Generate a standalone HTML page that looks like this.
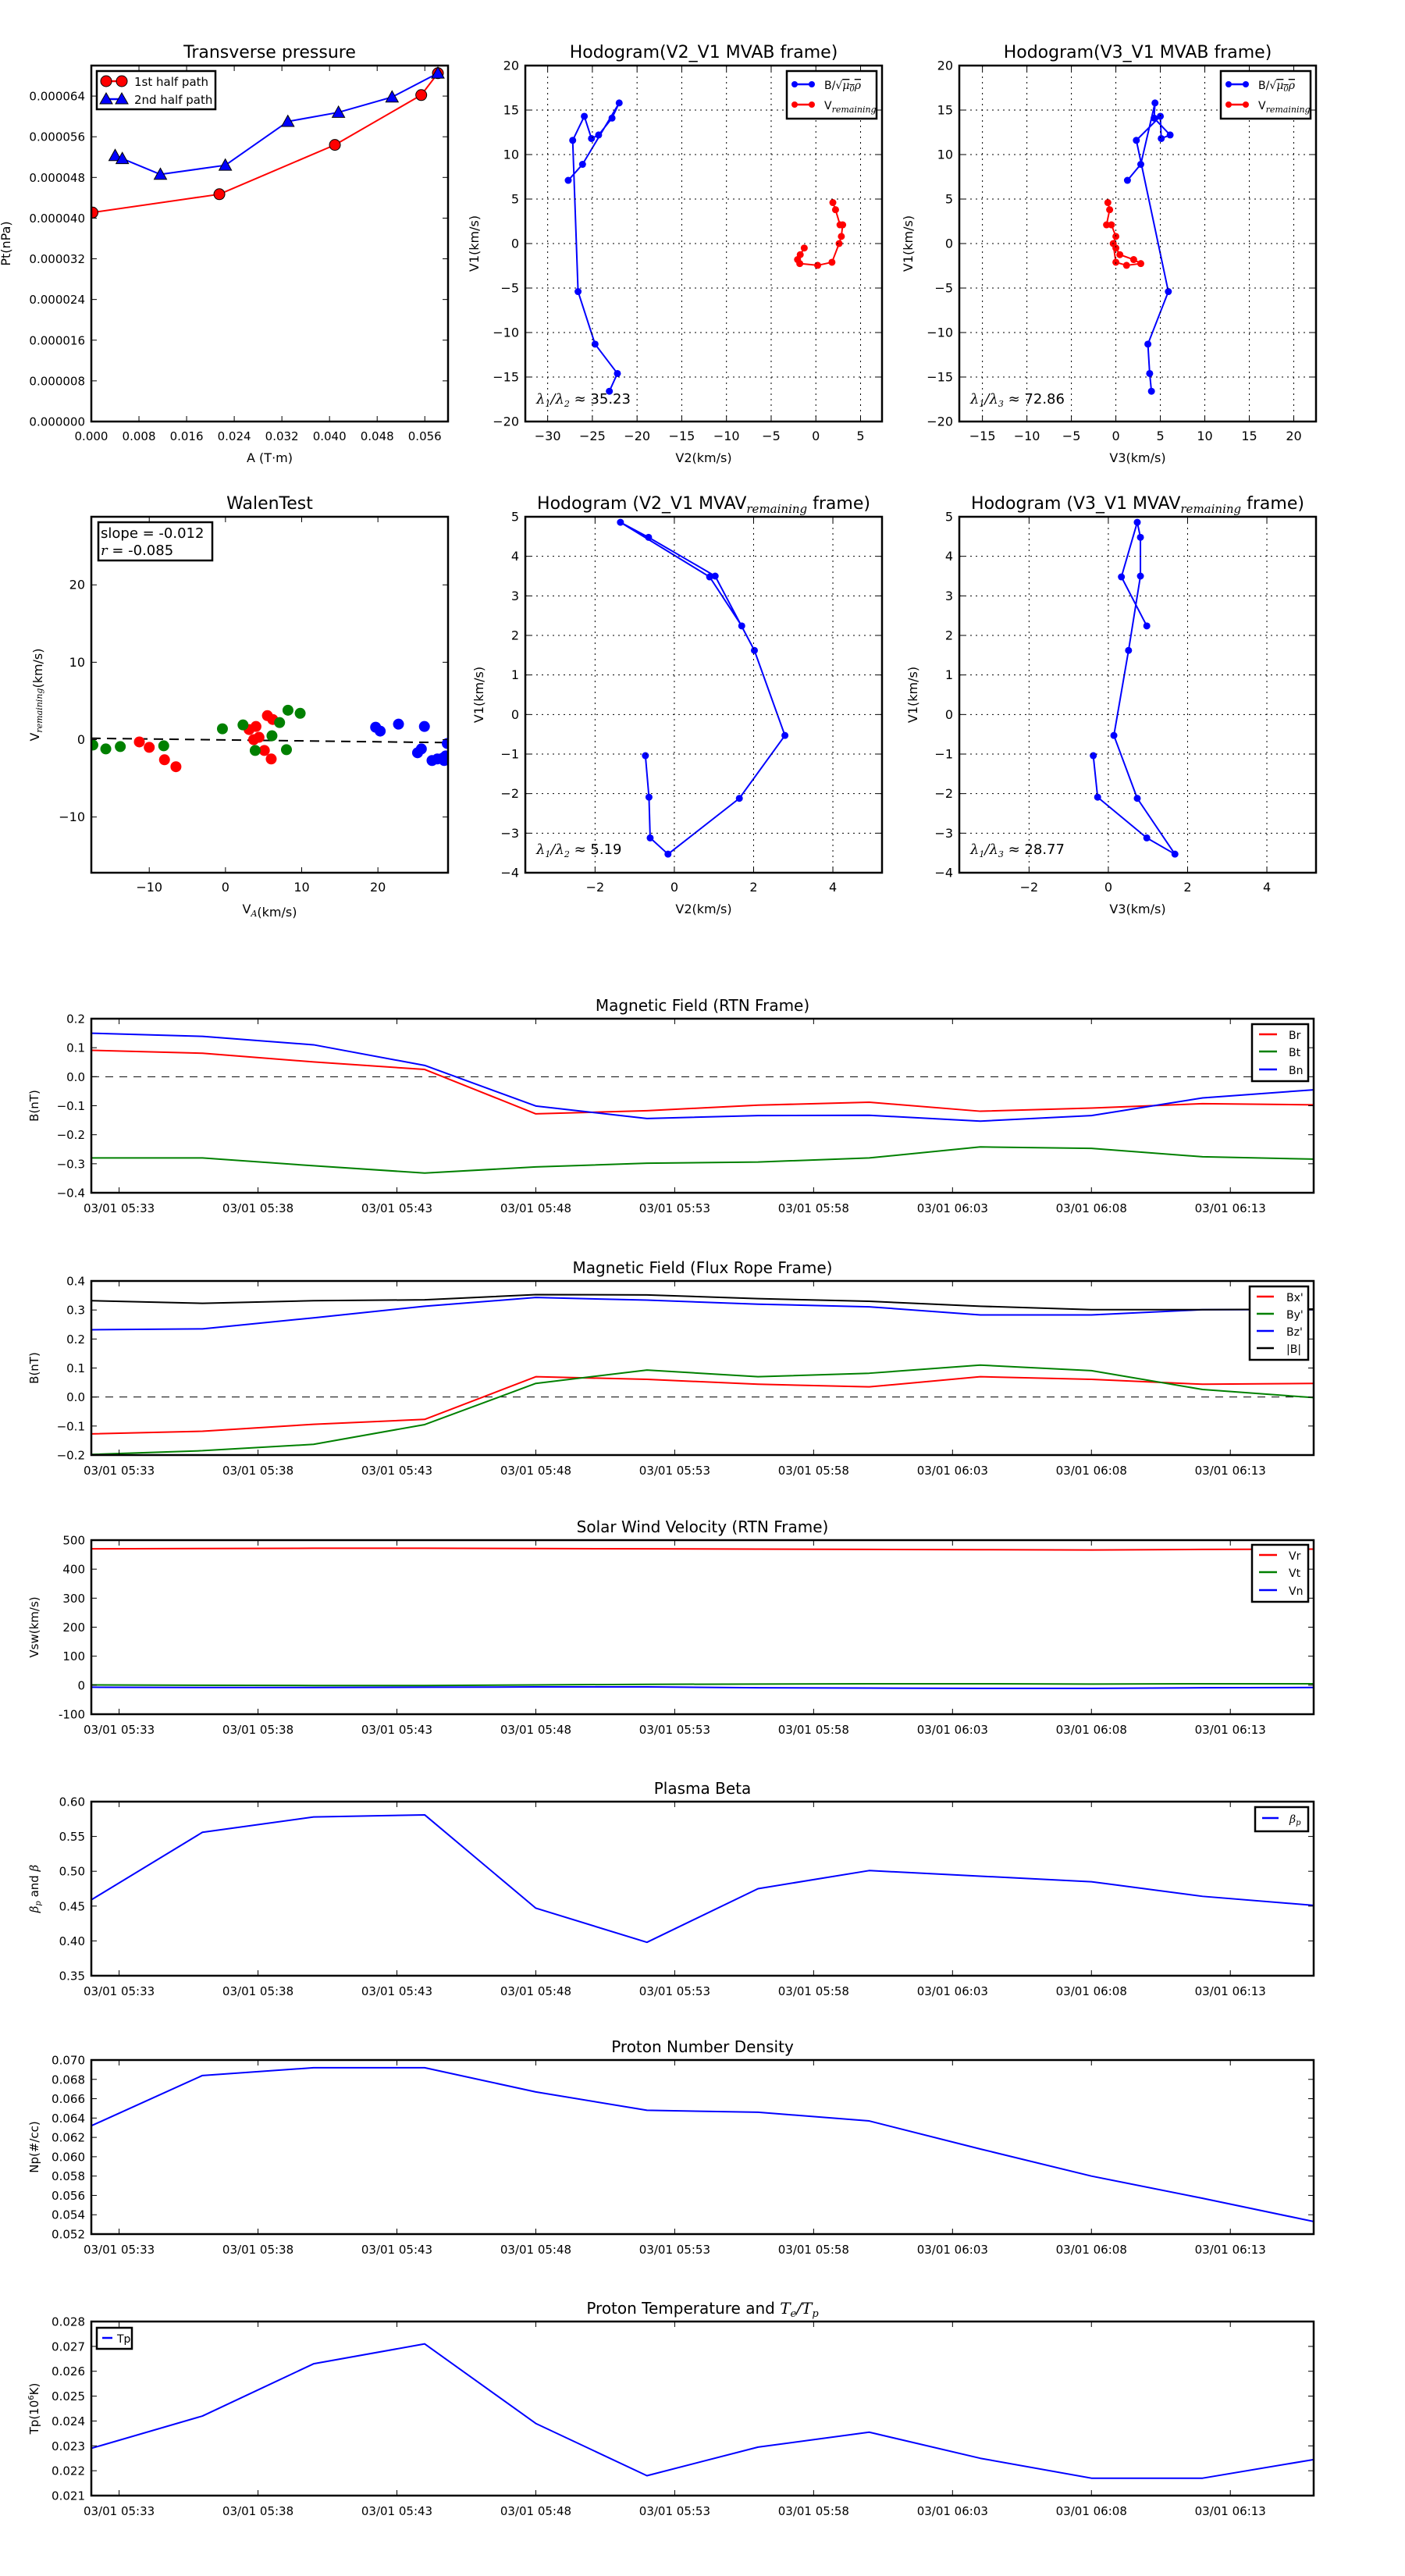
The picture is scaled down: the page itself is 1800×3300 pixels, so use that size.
<!DOCTYPE html>
<html><head><meta charset="utf-8"><title>Flux rope analysis</title>
<style>
html,body{margin:0;padding:0;background:#fff;}
svg{display:block;font-family:"DejaVu Sans","Liberation Sans",sans-serif;}
</style></head>
<body>
<svg id="fig" xmlns="http://www.w3.org/2000/svg" width="1800" height="3300" viewBox="0 0 1800 3300">
<rect x="0" y="0" width="1800" height="3300" fill="#fff"/>
</svg>
<script>
// ---------- DATA ----------
const tpRedA  = [0.0002, 0.0215, 0.0409, 0.0554, 0.0582];
const tpRedPt = [41.1e-6, 44.7e-6, 54.4e-6, 64.2e-6, 68.5e-6];
const tpBlueA  = [0.0040, 0.0052, 0.0116, 0.0225, 0.0330, 0.0415, 0.0505, 0.0582];
const tpBluePt = [52.3e-6, 51.7e-6, 48.6e-6, 50.4e-6, 59.0e-6, 60.8e-6, 63.8e-6, 68.5e-6];

const hbV1 = [-16.6, -14.6, -11.3, -5.4, 11.6, 14.3, 11.8, 12.2, 14.1, 15.8, 8.9, 7.1];
const hbV2 = [-23.1, -22.2, -24.7, -26.6, -27.2, -25.9, -25.1, -24.3, -22.8, -22.0, -26.1, -27.7];
const hbV3 = [4.0, 3.8, 3.6, 5.9, 2.3, 5.0, 5.1, 6.1, 4.3, 4.4, 2.8, 1.3];
const hrV1 = [4.6, 3.8, 2.1, 2.1, 0.8, 0.0, -2.1, -2.45, -2.25, -1.8, -1.25, -0.5];
const hrV2 = [1.9, 2.2, 2.7, 3.0, 2.85, 2.6, 1.8, 0.2, -1.8, -2.05, -1.75, -1.3];
const hrV3 = [-0.9, -0.7, -1.05, -0.5, 0.0, -0.3, 0.0, 1.2, 2.8, 2.0, 0.45, 0.0];
const ratio1 = ["35.23", "72.86"];

const wRedX = [-11.3, -10.0, -8.0, -6.5, 3.1, 4.0, 3.7, 4.4, 5.5, 6.2, 5.1, 6.0];
const wRedY = [-0.3, -1.0, -2.6, -3.5, 1.3, 1.7, 0.0, 0.3, 3.1, 2.6, -1.4, -2.5];
const wGreenX = [-17.4, -15.7, -13.8, -8.1, -0.4, 2.3, 3.9, 6.1, 7.1, 8.0, 8.2, 9.8];
const wGreenY = [-0.7, -1.2, -0.9, -0.8, 1.4, 1.9, -1.4, 0.5, 2.2, -1.3, 3.8, 3.4];
const wBlueX = [19.7, 20.3, 22.7, 26.1, 25.2, 25.7, 27.1, 27.8, 28.7, 28.9, 29.1, 28.5];
const wBlueY = [1.6, 1.1, 2.0, 1.7, -1.7, -1.2, -2.7, -2.5, -2.7, -2.1, -0.5, -2.4];
const walenSlope = [-0.012];
const walenIntercept = [-0.04];
const walenR = ["-0.085"];

const mvV1 = [2.24, 3.48, 4.86, 4.48, 3.50, 1.62, -0.53, -2.12, -3.53, -3.12, -2.09, -1.04];
const mvV2 = [1.70, 0.89, -1.36, -0.65, 1.03, 2.02, 2.79, 1.64, -0.16, -0.61, -0.64, -0.73];
const mvV3 = [0.97, 0.33, 0.73, 0.81, 0.81, 0.51, 0.14, 0.73, 1.68, 0.97, -0.27, -0.38];
const ratio2 = ["5.19", "28.77"];

// time series: minutes after 05:32
const tMin = [0, 4, 8, 12, 16, 20, 24, 28, 32, 36, 40, 44];
const tickLabels = ["03/01 05:33","03/01 05:38","03/01 05:43","03/01 05:48","03/01 05:53","03/01 05:58","03/01 06:03","03/01 06:08","03/01 06:13"];
const tickMinutes = [1, 6, 11, 16, 21, 26, 31, 36, 41];

const Br = [0.091, 0.081, 0.051, 0.025, -0.128, -0.117, -0.098, -0.088, -0.119, -0.108, -0.093, -0.097];
const Bt = [-0.280, -0.280, -0.307, -0.332, -0.311, -0.298, -0.294, -0.280, -0.242, -0.247, -0.276, -0.284];
const Bn = [0.150, 0.139, 0.110, 0.039, -0.101, -0.144, -0.134, -0.133, -0.153, -0.134, -0.073, -0.045];

const Bx = [-0.127, -0.118, -0.094, -0.077, 0.070, 0.061, 0.044, 0.035, 0.070, 0.061, 0.044, 0.047];
const By = [-0.198, -0.185, -0.163, -0.095, 0.047, 0.093, 0.070, 0.082, 0.110, 0.091, 0.026, -0.002];
const Bz = [0.232, 0.235, 0.273, 0.313, 0.343, 0.334, 0.320, 0.311, 0.283, 0.283, 0.301, 0.301];
const Bmag = [0.332, 0.323, 0.332, 0.335, 0.353, 0.352, 0.339, 0.330, 0.313, 0.301, 0.301, 0.303];

const Vr = [470, 471, 472, 472, 471, 470, 469, 468, 467, 466, 468, 469];
const Vt = [1, 0, -1, -1, 1, 3, 4, 5, 5, 4, 5, 5];
const Vn = [-7, -8, -8, -7, -6, -6, -9, -10, -11, -11, -9, -8];

const betaP = [0.459, 0.556, 0.578, 0.581, 0.447, 0.398, 0.475, 0.501, 0.493, 0.485, 0.464, 0.451];
const Np = [0.0632, 0.0684, 0.0692, 0.0692, 0.0667, 0.0648, 0.0646, 0.0637, 0.0608, 0.0580, 0.0557, 0.0533];
const Tp = [0.0229, 0.0242, 0.0263, 0.0271, 0.0239, 0.0218, 0.02295, 0.02355, 0.0225, 0.0217, 0.0217, 0.02245];

// ---------- HELPERS ----------
const NS = "http://www.w3.org/2000/svg";
const fig = document.getElementById('fig');
let clipId = 0;
function mk(tag, attrs, parent) {
  const e = document.createElementNS(NS, tag);
  for (const k in attrs) e.setAttribute(k, attrs[k]);
  (parent || fig).appendChild(e);
  return e;
}
function txt(parent, x, y, s, size, anchor, extra) {
  const e = mk('text', Object.assign({x: x, y: y, 'font-size': size, 'text-anchor': anchor || 'middle', fill: '#000'}, extra || {}), parent);
  e.innerHTML = s;
  return e;
}
function fmtMinus(v, d) { const s = Math.abs(v).toFixed(d); return (v < -1e-12 ? '\u2212' : '') + s; }
function rng(a, b, step) { const r = []; for (let v = a; v <= b + step * 1e-6; v += step) r.push(+v.toFixed(10)); return r; }

function makeAxes(name, x0, y0, w, h, xmin, xmax, ymin, ymax) {
  const g = mk('g', {});
  
  
  const sx = v => x0 + (v - xmin) / (xmax - xmin) * w;
  const sy = v => y0 + h - (v - ymin) / (ymax - ymin) * h;
  clipId++;
  const cp = mk('clipPath', {id: 'cp' + clipId}, g);
  mk('rect', {x: x0, y: y0, width: w, height: h}, cp);
  const plot = mk('g', {'clip-path': 'url(#cp' + clipId + ')'}, g);
  
  
  return {g, plot, sx, sy, x0, y0, w, h};
}
function frame(ax) {
  const r = mk('rect', {x: ax.x0, y: ax.y0, width: ax.w, height: ax.h, fill: 'none', stroke: '#000', 'stroke-width': 2.5}, ax.g);
  
  
}
function xticks(ax, vals, labels, size, grid, off) {
  const b = ax.y0 + ax.h;
  vals.forEach((v, i) => {
    const x = ax.sx(v);
    if (grid) mk('line', {x1: x, y1: ax.y0, x2: x, y2: b, stroke: '#000', 'stroke-width': 1, 'stroke-dasharray': '2,5'}, ax.g);
    mk('line', {x1: x, y1: b, x2: x, y2: b - 7, stroke: '#000', 'stroke-width': 1}, ax.g);
    mk('line', {x1: x, y1: ax.y0, x2: x, y2: ax.y0 + 7, stroke: '#000', 'stroke-width': 1}, ax.g);
    const t = txt(ax.g, x, b + (off || 24), labels[i], size, 'middle');
    
    
  });
}
function yticks(ax, vals, labels, size, grid) {
  const r = ax.x0 + ax.w;
  vals.forEach((v, i) => {
    const y = ax.sy(v);
    if (grid) mk('line', {x1: ax.x0, y1: y, x2: r, y2: y, stroke: '#000', 'stroke-width': 1, 'stroke-dasharray': '2,5'}, ax.g);
    mk('line', {x1: ax.x0, y1: y, x2: ax.x0 + 7, y2: y, stroke: '#000', 'stroke-width': 1}, ax.g);
    mk('line', {x1: r, y1: y, x2: r - 7, y2: y, stroke: '#000', 'stroke-width': 1}, ax.g);
    const t = txt(ax.g, ax.x0 - 8, y + 5.5, labels[i], size, 'end');
    
    
  });
}
function line(ax, xs, ys, color, name, width) {
  const pts = xs.map((x, i) => ax.sx(x).toFixed(2) + ',' + ax.sy(ys[i]).toFixed(2)).join(' ');
  const p = mk('polyline', {points: pts, fill: 'none', stroke: color, 'stroke-width': width || 2, 'stroke-linejoin': 'round'}, ax.plot);
  
  
  return p;
}
function dots(ax, xs, ys, color, r, name, stroke) {
  xs.forEach((x, i) => {
    const c = mk('circle', {cx: ax.sx(x), cy: ax.sy(ys[i]), r: r, fill: color, stroke: stroke || 'none', 'stroke-width': 1}, ax.plot);
    
    
  });
}
function tris(ax, xs, ys, color, s, name) {
  xs.forEach((x, i) => {
    const cx = ax.sx(x), cy = ax.sy(ys[i]);
    const p = mk('polygon', {points: `${cx},${cy - s} ${cx - s},${cy + s * 0.8} ${cx + s},${cy + s * 0.8}`, fill: color, stroke: '#000', 'stroke-width': 1}, ax.plot);
    
    
  });
}
function title(ax, s, size, dy) {
  const t = txt(ax.g, ax.x0 + ax.w / 2, ax.y0 - (dy || 10), s, size, 'middle');
  
  
}
function xlabel(ax, s, size, off) {
  const t = txt(ax.g, ax.x0 + ax.w / 2, ax.y0 + ax.h + (off || 52), s, size, 'middle');
  
  
}
function ylabel(ax, s, size, xc) {
  const yc = ax.y0 + ax.h / 2;
  const t = txt(ax.g, xc, yc, s, size, 'middle', {transform: `rotate(-90 ${xc} ${yc})`});
  
  
}
function legendBox(ax, x, y, w, h, entries, size, lx1, lx2, tx, rows, marker) {
  const lg = mk('g', {}, ax.g);
  
  
  mk('rect', {x: x, y: y, width: w, height: h, fill: '#fff', stroke: '#000', 'stroke-width': 2.5}, lg);
  entries.forEach((en, i) => {
    const row = mk('g', {}, lg);
    
    
    mk('line', {x1: lx1, y1: rows[i], x2: lx2, y2: rows[i], stroke: en.c, 'stroke-width': 2.5}, row);
    if (marker === 'dot') { mk('circle', {cx: lx1, cy: rows[i], r: 4, fill: en.c}, row); mk('circle', {cx: lx2, cy: rows[i], r: 4, fill: en.c}, row); }
    if (marker === 'big') {
      if (en.m === 'o') { mk('circle', {cx: lx1, cy: rows[i], r: 7, fill: en.c, stroke: '#000'}, row); mk('circle', {cx: lx2, cy: rows[i], r: 7, fill: en.c, stroke: '#000'}, row); }
      else { [lx1, lx2].forEach(cx => mk('polygon', {points: `${cx},${rows[i] - 8} ${cx - 8},${rows[i] + 6} ${cx + 8},${rows[i] + 6}`, fill: en.c, stroke: '#000'}, row)); }
    }
    txt(row, tx, rows[i] + 6, en.t, size, 'start');
  });
}

const SUB = (s) => `<tspan font-family="DejaVu Serif, serif" font-style="italic" font-size="11" dy="4">${s}</tspan><tspan dy="-4"></tspan>`;
const BLEG = `B/<tspan font-family="DejaVu Serif, serif">\u221A</tspan><tspan font-family="DejaVu Serif, serif" font-style="italic" text-decoration="overline">\u03BC<tspan font-size="10" dy="3">0</tspan><tspan dy="-3">\u03C1</tspan></tspan>`;
const VLEG = 'V' + SUB('remaining');

// ---------- ROW 1 ----------
const TOPY = 84, TOPH = 456, COLX = [117, 673, 1229], COLW = 457;
{
  const ax = makeAxes('transverse-pressure-chart', COLX[0], TOPY, COLW, TOPH, 0, 0.0599, 0, 70e-6);
  const xv = rng(0, 0.056, 0.008), yv = rng(0, 64e-6, 8e-6);
  xticks(ax, xv, xv.map(v => v.toFixed(3)), 15);
  yticks(ax, yv, yv.map(v => v.toFixed(6)), 15);
  line(ax, tpRedA, tpRedPt, '#ff0000', 'first-half-path-line');
  line(ax, tpBlueA, tpBluePt, '#0000ff', 'second-half-path-line');
  dots(ax, tpRedA, tpRedPt, '#ff0000', 7, 'first-half-point', '#000');
  tris(ax, tpBlueA, tpBluePt, '#0000ff', 8, 'second-half-point');
  frame(ax);
  title(ax, 'Transverse pressure', 22);
  xlabel(ax, 'A (T\u00B7m)', 16);
  ylabel(ax, 'Pt(nPa)', 16, 13);
  legendBox(ax, 124, 91, 152, 49, [{c: '#ff0000', t: '1st half path', m: 'o'}, {c: '#0000ff', t: '2nd half path', m: '^'}], 15, 136, 156, 172, [104, 127], 'big');
}
function hodo1(idx, xs, xr, xmin, xmax, xt, xlab, tname, lab, ratio) {
  const ax = makeAxes(tname, COLX[idx], TOPY, COLW, TOPH, xmin, xmax, -20, 20);
  const yv = rng(-20, 20, 5);
  xticks(ax, xt, xt.map(v => fmtMinus(v, 0)), 16, true);
  yticks(ax, yv, yv.map(v => fmtMinus(v, 0)), 16, true);
  line(ax, xs, hbV1, '#0000ff', 'b-field-hodogram-line');
  dots(ax, xs, hbV1, '#0000ff', 4.5, 'b-field-point');
  line(ax, xr, hrV1, '#ff0000', 'v-remaining-hodogram-line');
  dots(ax, xr, hrV1, '#ff0000', 4.5, 'v-remaining-point');
  frame(ax);
  title(ax, tname === 'hodogram-v2-v1-mvab' ? 'Hodogram(V2_V1 MVAB frame)' : 'Hodogram(V3_V1 MVAB frame)', 22);
  xlabel(ax, xlab, 16);
  ylabel(ax, 'V1(km/s)', 16, COLX[idx] - 60);
  const lx = COLX[idx] + COLW - 122;
  legendBox(ax, lx, 91, 115, 61, [{c: '#0000ff', t: BLEG}, {c: '#ff0000', t: VLEG}], 14, lx + 10, lx + 32, lx + 48, [108, 134], 'dot');
  const t = txt(ax.g, COLX[idx] + 14, 517, `<tspan font-family="DejaVu Serif, serif" font-style="italic">\u03BB<tspan font-size="11" dy="4">1</tspan><tspan dy="-4">/\u03BB</tspan><tspan font-size="11" dy="4">${lab}</tspan></tspan><tspan dy="-4"> \u2248 ${ratio}</tspan>`, 18, 'start');
  
  
}
hodo1(1, hbV2, hrV2, -32.5, 7.4, rng(-30, 5, 5), 'V2(km/s)', 'hodogram-v2-v1-mvab', '2', ratio1[0]);
hodo1(2, hbV3, hrV3, -17.6, 22.5, rng(-15, 20, 5), 'V3(km/s)', 'hodogram-v3-v1-mvab', '3', ratio1[1]);

// ---------- ROW 2 ----------
const R2Y = 662;
{
  const ax = makeAxes('walen-test-chart', COLX[0], R2Y, COLW, TOPH, -17.6, 29.2, -17.2, 28.8);
  const xv = [-10, 0, 10, 20], yv = [-10, 0, 10, 20];
  xticks(ax, xv, xv.map(v => fmtMinus(v, 0)), 16);
  yticks(ax, yv, yv.map(v => fmtMinus(v, 0)), 16);
  const lx = [-17.6, 29.2];
  const dl = mk('line', {x1: ax.sx(lx[0]), y1: ax.sy(walenSlope[0] * lx[0] + walenIntercept[0]), x2: ax.sx(lx[1]), y2: ax.sy(walenSlope[0] * lx[1] + walenIntercept[0]), stroke: '#000', 'stroke-width': 2, 'stroke-dasharray': '12,8'}, ax.plot);
  
  
  dots(ax, wRedX, wRedY, '#ff0000', 7, 'walen-point-component1');
  dots(ax, wGreenX, wGreenY, '#008000', 7, 'walen-point-component2');
  dots(ax, wBlueX, wBlueY, '#0000ff', 7, 'walen-point-component3');
  frame(ax);
  title(ax, 'WalenTest', 22);
  xlabel(ax, 'V' + SUB('A') + '(km/s)', 16);
  ylabel(ax, 'V' + SUB('remaining') + '(km/s)', 16, COLX[0] - 67);
  const b = mk('g', {}, ax.g);
  
  
  mk('rect', {x: 126, y: 669, width: 146, height: 49, fill: '#fff', stroke: '#000', 'stroke-width': 2.5}, b);
  txt(b, 129, 689, 'slope = ' + walenSlope[0].toFixed(3), 18, 'start');
  txt(b, 129, 711, '<tspan font-family="DejaVu Serif, serif" font-style="italic">r</tspan> = ' + walenR[0], 18, 'start');
}
function hodo2(idx, xs, xlab, tname, ttl, lab, ratio) {
  const ax = makeAxes(tname, COLX[idx], R2Y, COLW, TOPH, -3.76, 5.24, -4, 5);
  const xv = [-2, 0, 2, 4], yv = rng(-4, 5, 1);
  xticks(ax, xv, xv.map(v => fmtMinus(v, 0)), 16, true);
  yticks(ax, yv, yv.map(v => fmtMinus(v, 0)), 16, true);
  line(ax, xs, mvV1, '#0000ff', 'mvav-hodogram-line');
  dots(ax, xs, mvV1, '#0000ff', 4.5, 'mvav-point');
  frame(ax);
  title(ax, ttl, 22);
  xlabel(ax, xlab, 16);
  ylabel(ax, 'V1(km/s)', 16, COLX[idx] - 54);
  const t = txt(ax.g, COLX[idx] + 14, 1094, `<tspan font-family="DejaVu Serif, serif" font-style="italic">\u03BB<tspan font-size="11" dy="4">1</tspan><tspan dy="-4">/\u03BB</tspan><tspan font-size="11" dy="4">${lab}</tspan></tspan><tspan dy="-4"> \u2248 ${ratio}</tspan>`, 18, 'start');
  
  
}
const MVT = (v) => `Hodogram (${v}_V1 MVAV<tspan font-family="DejaVu Serif, serif" font-style="italic" font-size="15" dy="5">remaining</tspan><tspan dy="-5"> frame)</tspan>`;
hodo2(1, mvV2, 'V2(km/s)', 'hodogram-v2-v1-mvav', MVT('V2'), '2', ratio2[0]);
hodo2(2, mvV3, 'V3(km/s)', 'hodogram-v3-v1-mvav', MVT('V3'), '3', ratio2[1]);

// ---------- TIME SERIES ----------
const TSX = 117, TSW = 1566, TSH = 223;
function tsPanel(name, top, ymin, ymax, yv, ylabs, ttl, ylab) {
  const ax = makeAxes(name, TSX, top, TSW, TSH, 0, 44, ymin, ymax);
  xticks(ax, tickMinutes, tickLabels, 15, false, 25);
  yticks(ax, yv, ylabs, 15);
  title(ax, ttl, 20, 10);
  ylabel(ax, ylab, 15, TSX - 68);
  return ax;
}
function zeroLine(ax) {
  const z = mk('line', {x1: ax.x0, y1: ax.sy(0), x2: ax.x0 + ax.w, y2: ax.sy(0), stroke: '#000', 'stroke-width': 1, 'stroke-dasharray': '10,8'}, ax.plot);
  
  
}
{
  const yv = rng(-0.4, 0.2, 0.1);
  const ax = tsPanel('magnetic-field-rtn-chart', 1305, -0.4, 0.2, yv, yv.map(v => fmtMinus(v, 1)), 'Magnetic Field (RTN Frame)', 'B(nT)');
  zeroLine(ax);
  line(ax, tMin, Br, '#ff0000', 'br-line');
  line(ax, tMin, Bt, '#008000', 'bt-line');
  line(ax, tMin, Bn, '#0000ff', 'bn-line');
  frame(ax);
  legendBox(ax, 1604, 1312, 72, 73, [{c: '#ff0000', t: 'Br'}, {c: '#008000', t: 'Bt'}, {c: '#0000ff', t: 'Bn'}], 14, 1613, 1636, 1651, [1325, 1347, 1370]);
}
{
  const yv = rng(-0.2, 0.4, 0.1);
  const ax = tsPanel('magnetic-field-flux-rope-chart', 1641, -0.2, 0.4, yv, yv.map(v => fmtMinus(v, 1)), 'Magnetic Field (Flux Rope Frame)', 'B(nT)');
  zeroLine(ax);
  line(ax, tMin, Bx, '#ff0000', 'bx-line');
  line(ax, tMin, By, '#008000', 'by-line');
  line(ax, tMin, Bz, '#0000ff', 'bz-line');
  line(ax, tMin, Bmag, '#000000', 'b-magnitude-line');
  frame(ax);
  legendBox(ax, 1601, 1648, 75, 94, [{c: '#ff0000', t: "Bx'"}, {c: '#008000', t: "By'"}, {c: '#0000ff', t: "Bz'"}, {c: '#000', t: '|B|'}], 14, 1610, 1632, 1648, [1661, 1683, 1705, 1727]);
}
{
  const yv = rng(-100, 500, 100);
  const ax = tsPanel('solar-wind-velocity-chart', 1973, -100, 500, yv, yv.map(v => String(v)), 'Solar Wind Velocity (RTN Frame)', 'Vsw(km/s)');
  line(ax, tMin, Vr, '#ff0000', 'vr-line');
  line(ax, tMin, Vt, '#008000', 'vt-line');
  line(ax, tMin, Vn, '#0000ff', 'vn-line');
  frame(ax);
  legendBox(ax, 1604, 1979, 72, 73, [{c: '#ff0000', t: 'Vr'}, {c: '#008000', t: 'Vt'}, {c: '#0000ff', t: 'Vn'}], 14, 1613, 1636, 1651, [1992, 2014, 2037]);
}
{
  const yv = rng(0.35, 0.60, 0.05);
  const ax = tsPanel('plasma-beta-chart', 2308, 0.35, 0.60, yv, yv.map(v => v.toFixed(2)), 'Plasma Beta', '<tspan font-family="DejaVu Serif, serif" font-style="italic">\u03B2<tspan font-size="10" dy="3">p</tspan></tspan><tspan dy="-3"> and </tspan><tspan font-family="DejaVu Serif, serif" font-style="italic">\u03B2</tspan>');
  line(ax, tMin, betaP, '#0000ff', 'beta-p-line');
  frame(ax);
  legendBox(ax, 1608, 2315, 68, 31, [{c: '#0000ff', t: '<tspan font-family="DejaVu Serif, serif" font-style="italic">\u03B2<tspan font-size="10" dy="3">p</tspan></tspan>'}], 14, 1617, 1638, 1652, [2329]);
}
{
  const yv = rng(0.052, 0.070, 0.002);
  const ax = tsPanel('proton-density-chart', 2639, 0.052, 0.070, yv, yv.map(v => v.toFixed(3)), 'Proton Number Density', 'Np(#/cc)');
  line(ax, tMin, Np, '#0000ff', 'np-line');
  frame(ax);
}
{
  const yv = rng(0.021, 0.028, 0.001);
  const ax = tsPanel('proton-temperature-chart', 2974, 0.021, 0.028, yv, yv.map(v => v.toFixed(3)), 'Proton Temperature and <tspan font-family="DejaVu Serif, serif" font-style="italic">T<tspan font-size="13" dy="4">e</tspan><tspan dy="-4">/T</tspan><tspan font-size="13" dy="4">p</tspan></tspan>', 'Tp(10<tspan font-size="10" dy="-6">6</tspan><tspan dy="6">K)</tspan>');
  line(ax, tMin, Tp, '#0000ff', 'tp-line');
  frame(ax);
  legendBox(ax, 124, 2982, 45, 27, [{c: '#0000ff', t: 'Tp'}], 14, 131, 144, 150, [2995]);
}
</script>
</body></html>
